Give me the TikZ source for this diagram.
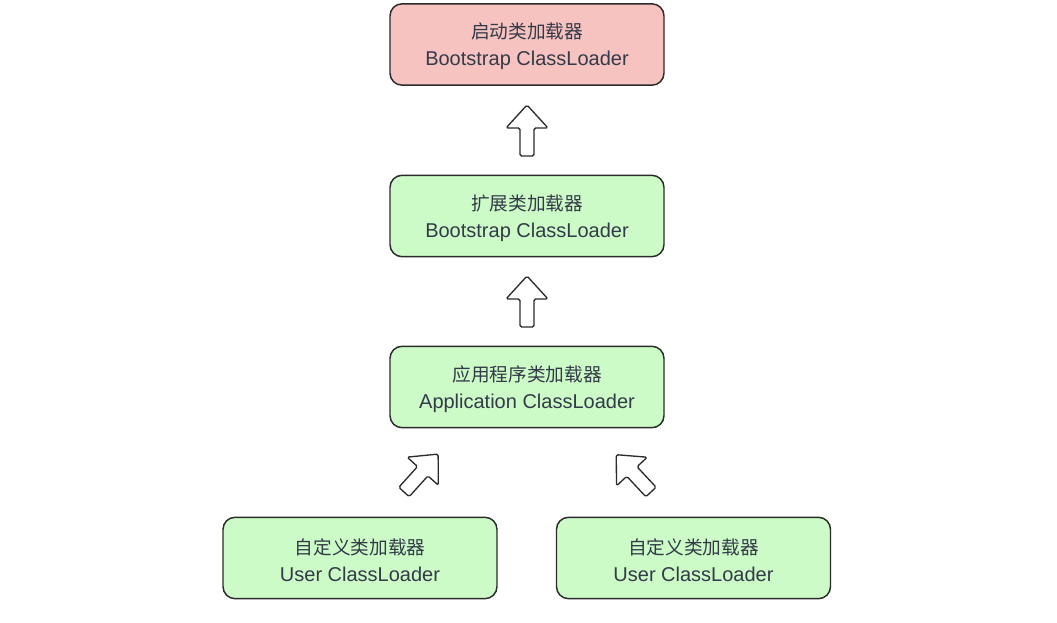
\documentclass[tikz,border=0pt]{standalone}
\usepackage{fontspec}
\setmainfont{Liberation Sans}
\newfontfamily\cjk{Noto Sans CJK SC}
\definecolor{pinkfill}{HTML}{F6C3C1}
\definecolor{greenfill}{HTML}{CDFBC8}
\definecolor{boxline}{HTML}{2B2B2B}
\definecolor{txt}{HTML}{333A48}
\newcommand{\lbl}[2]{{\cjk\fontsize{14}{20}\selectfont #1}\\#2}
\begin{document}
\begin{tikzpicture}[x=0.75pt,y=-0.75pt,
  box/.style={draw=boxline, line width=1.1pt, rounded corners=9pt,
    minimum width=205.5pt, minimum height=61pt, inner sep=0pt,
    align=center, text=txt, font=\fontsize{15}{20}\selectfont},
  pinkbox/.style={box, fill=pinkfill},
  greenbox/.style={box, fill=greenfill},
  blockarrow/.pic={\draw[line width=1pt, draw=boxline, fill=white, rounded corners=1.2pt, line join=round]
     (-7,0) -- (-7,-28) -- (-21,-28) -- (0,-51) -- (21,-28) -- (7,-28) -- (7,0) -- cycle;}
]
\useasboundingbox (0,0) rectangle (1057,623);
\node[pinkbox]  (boot) at (527,44.5)  {};
\node[greenbox] (ext)  at (527,216)   {};
\node[greenbox] (app)  at (527,387)   {};
\node[greenbox] (u1)   at (360,558)   {};
\node[greenbox] (u2)   at (693.5,558) {};
\begin{scope}[every node/.style={align=center, text=txt, font=\fontsize{15}{20}\selectfont, inner sep=0pt}]
\node (bootT) at ([yshift=-1.5pt]boot.center) {\lbl{启动类加载器}{Bootstrap ClassLoader}};
\node (extT)  at ([yshift=-1.5pt]ext.center)  {\lbl{扩展类加载器}{Bootstrap ClassLoader}};
\node (appT)  at ([yshift=-1.5pt]app.center)  {\lbl{应用程序类加载器}{Application ClassLoader}};
\node (u1T)   at ([yshift=-1.5pt]u1.center)   {\lbl{自定义类加载器}{User ClassLoader}};
\node (u2T)   at ([yshift=-1.5pt]u2.center)   {\lbl{自定义类加载器}{User ClassLoader}};
\end{scope}
\pic at (527,156) {blockarrow};
\pic at (527,327) {blockarrow};
\pic[rotate=-42] at (404,492) {blockarrow};
\pic[rotate=43] at (651,492) {blockarrow};
\end{tikzpicture}
\end{document}
